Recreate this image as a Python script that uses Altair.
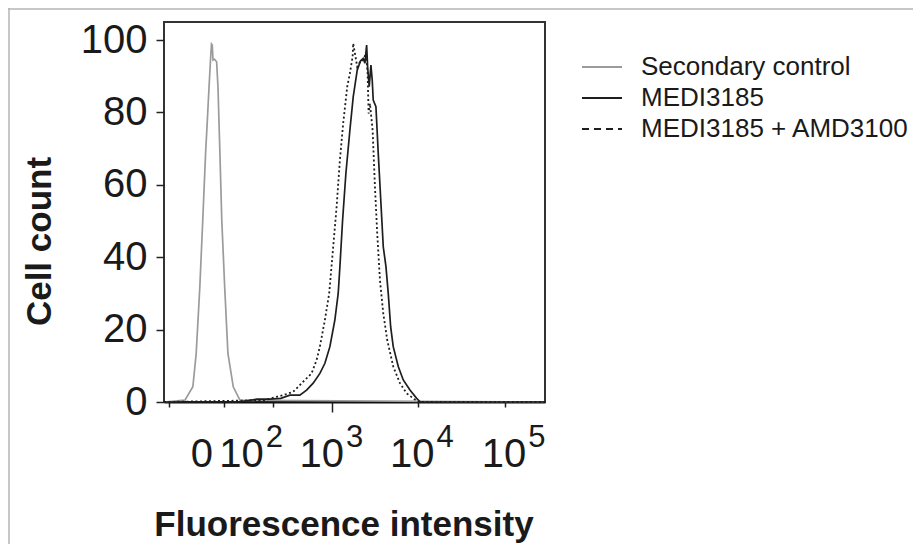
import altair as alt
import pandas as pd

# ---------------- data ----------------
series_names = ["Secondary control", "MEDI3185", "MEDI3185 + AMD3100"]

ctrl_x = [-63, -21, -10, -6, -2, 1, 4, 6, 8, 10, 11, 12, 13, 15, 18, 20, 23, 26, 31, 37, 48, 64, 216000]
ctrl_y = [0, 0.5, 4.2, 13.4, 31.8, 50.3, 68.7, 77.9, 87.1, 95.4, 98.9, 98.6, 94.5, 94.7, 94.0, 87.1, 68.7, 50.3, 31.8, 13.4, 4.2, 0.5, 0]

medi_x = [-63, 60, 120, 180, 250, 323, 426, 512, 611, 730, 833, 949, 1081, 1178, 1231, 1320, 1437, 1592, 1734,
          1921, 2095, 2240, 2338, 2442, 2504, 2608, 2724, 2816, 2888, 3093, 3280, 3511, 3724, 3987, 4225, 4488,
          4792, 5440, 6172, 7304, 8648, 9500, 216000]
medi_y = [0, 0, 0.8, 0.8, 1.0, 1.9, 1.9, 3.3, 5.2, 7.9, 10.7, 15.3, 22.7, 30.0, 37.4, 50.3, 63.2, 75.1, 84.3,
          91.7, 94.3, 94.9, 93.6, 98.6, 92.6, 87.1, 93.1, 88.9, 83.4, 81.6, 68.7, 54.9, 42.9, 37.4, 30.0, 20.8,
          15.3, 9.8, 6.1, 3.3, 1.0, 0, 0]

amd_x = [-63, 150, 267, 354, 467, 585, 669, 730, 833, 932, 1035, 1130, 1231, 1340, 1487, 1592, 1707, 1734, 1812,
         1921, 2058, 2240, 2398, 2504, 2568, 2656, 2844, 3016, 3196, 3424, 3724, 4120, 4792, 5676, 6720, 7940,
         9000, 216000]
amd_y = [0, 0.5, 1.9, 2.8, 5.6, 7.9, 11.6, 15.3, 22.7, 30.0, 42.9, 53.9, 66.9, 77.0, 87.1, 90.8, 95.4, 99.1, 96.3,
         92.6, 94.0, 94.5, 96.3, 90.8, 79.7, 82.5, 75.1, 59.5, 46.6, 33.7, 24.5, 17.1, 9.8, 5.2, 2.4, 1.0,
         0, 0]

major_ticks = [0, 100, 1000, 10000, 100000]
tick_base = ["0", "10", "10", "10", "10"]
tick_exp = ["", "2", "3", "4", "5"]
minor_ticks = ([-50, -40, -30, -20, -10] + list(range(10, 100, 10)) + list(range(200, 1000, 100))
               + list(range(2000, 10000, 1000)) + list(range(20000, 100000, 10000)) + [200000])
y_ticks = list(range(0, 101, 5))

# ---------------- build tables ----------------
rows = []
for name, xs, ys in [(series_names[0], ctrl_x, ctrl_y), (series_names[1], medi_x, medi_y),
                     (series_names[2], amd_x, amd_y)]:
    for a, b in zip(xs, ys):
        rows.append({"intensity": a, "count": b, "series": name})
df = pd.DataFrame(rows)

lab = pd.DataFrame({"intensity": major_ticks, "base": tick_base, "exp": tick_exp})

FONT = "Liberation Sans"
TXT = "#1a1a1a"

xscale = alt.Scale(type="symlog", constant=40, domain=[-63, 216000], nice=False, zero=False)
yscale = alt.Scale(domain=[0, 105], nice=False)
cscale = alt.Scale(domain=series_names, range=["#9b9b9b", "#1e1e1e", "#1e1e1e"])

major_test = " || ".join(f"datum.value == {v}" for v in major_ticks)

xaxis = alt.Axis(values=sorted(major_ticks + minor_ticks), labels=False, grid=False,
                 domainColor="#111111", domainWidth=2, tickColor="#222222", tickWidth=1.5,
                 tickSize={"condition": {"test": major_test, "value": 10}, "value": 5},
                 titleFont=FONT, titleFontSize=35, titleFontWeight="bold", titleColor=TXT,
                 titleX=179.5, titleY=133, titleAlign="center", titleBaseline="alphabetic")

yaxis = alt.Axis(values=y_ticks, labelExpr="datum.value % 20 == 0 ? datum.label : ''", grid=False,
                 domain=False, tickColor="#222222", tickWidth=1.5,
                 tickSize={"condition": {"test": "datum.value % 20 == 0", "value": 8}, "value": 4},
                 labelFont=FONT, labelFontSize=40, labelColor=TXT, labelPadding=9, labelOverlap=False,
                 titleFont=FONT, titleFontSize=35, titleFontWeight="bold", titleColor=TXT,
                 titleX=-114, titleY=219, titleAngle=270, titleAlign="center", titleBaseline="alphabetic")

legend = alt.Legend(title=None, orient="none", legendX=425, legendY=32, padding=0,
                    labelFont=FONT, labelFontSize=26, labelColor=TXT, labelOffset=26, rowPadding=5,
                    labelLimit=0,
                    symbolType="M-2,0H2", symbolSize=400, symbolStrokeWidth=2,
                    symbolDash={"expr": "datum.value == 'MEDI3185 + AMD3100' ? [7, 5] : [1, 0]"})

solid = alt.Chart(df).transform_filter(
    f"datum.series != '{series_names[2]}'"
).mark_line(strokeWidth=1.7).encode(
    x=alt.X("intensity:Q", scale=xscale, axis=xaxis, title="Fluorescence intensity"),
    y=alt.Y("count:Q", scale=yscale, axis=yaxis, title="Cell count"),
    color=alt.Color("series:N", scale=cscale, legend=legend),
)

dotted = alt.Chart(df).transform_filter(
    f"datum.series == '{series_names[2]}'"
).mark_line(strokeWidth=1.8, strokeDash=[2, 2.5]).encode(
    x=alt.X("intensity:Q", scale=xscale),
    y=alt.Y("count:Q", scale=yscale),
    color=alt.Color("series:N", scale=cscale, legend=legend),
)

zero_lab = alt.Chart(lab).transform_filter("datum.intensity == 0").mark_text(
    align="center", baseline="alphabetic", font=FONT, fontSize=40, color=TXT
).encode(x=alt.X("intensity:Q", scale=xscale), y=alt.value(445), text="base:N")

dec_lab = alt.Chart(lab).transform_filter("datum.intensity > 0").mark_text(
    align="right", baseline="alphabetic", font=FONT, fontSize=40, color=TXT, dx=12
).encode(x=alt.X("intensity:Q", scale=xscale), y=alt.value(445), text="base:N")

exp_lab = alt.Chart(lab).transform_filter("datum.intensity > 0").mark_text(
    align="left", baseline="alphabetic", font=FONT, fontSize=31, color=TXT, dx=14
).encode(x=alt.X("intensity:Q", scale=xscale), y=alt.value(425), text="exp:N")

one = pd.DataFrame({"d": [0]})
frame_left = alt.Chart(one).mark_rule(color="#b4b4b4", strokeWidth=1.5).encode(
    x=alt.value(-155), y=alt.value(-14), y2=alt.value(600))
frame_top = alt.Chart(one).mark_rule(color="#b4b4b4", strokeWidth=1.5).encode(
    y=alt.value(-13), x=alt.value(-156), x2=alt.value(800))

chart = alt.layer(solid, dotted, zero_lab, dec_lab, exp_lab, frame_left, frame_top).properties(
    width=381, height=380,
    autosize=alt.AutoSizeParams(type="none"),
    padding={"left": 156, "top": 14, "right": 368, "bottom": 142},
    background="white",
).configure_view(stroke="#333333", strokeWidth=2)

chart.save("out.html", embed_options={"renderer": "svg", "actions": False})
